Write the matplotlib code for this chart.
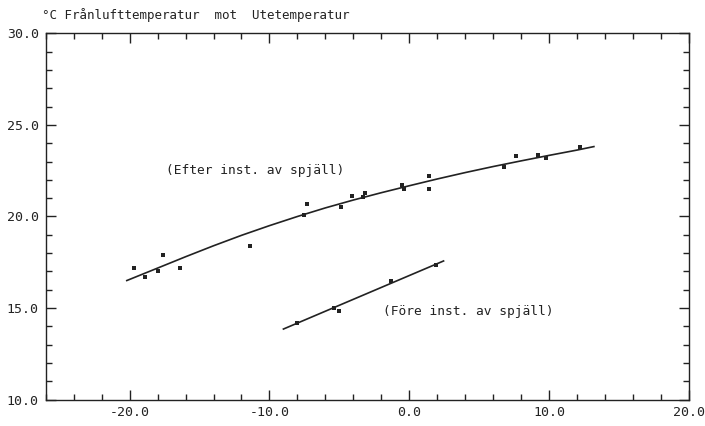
import numpy as np
import matplotlib
matplotlib.use("Agg")
import matplotlib.pyplot as plt
from matplotlib.ticker import MultipleLocator, FormatStrFormatter

# Measured points after the damper was installed (outdoor temp, exhaust air temp)
efter_ute = [-19.7, -18.9, -18.0, -17.6, -16.4, -11.4, -7.5, -7.3, -4.9, -4.1,
             -3.3, -3.2, -0.5, -0.4, 1.4, 1.4, 6.8, 7.6, 9.2, 9.8, 12.2]
efter_franluft = [17.2, 16.7, 17.0, 17.9, 17.2, 18.4, 20.1, 20.7, 20.5, 21.1,
                  21.05, 21.3, 21.7, 21.5, 22.2, 21.5, 22.7, 23.3, 23.35, 23.2, 23.8]

# Fitted curve (after)
efter_kurva_ute = [-20.2, -18, -16, -14, -12, -10, -8, -6, -4, -2,
                   0, 2, 4, 6, 8, 10, 12, 13.2]
efter_kurva_franluft = [16.5, 17.18, 17.8, 18.4, 18.97, 19.5, 20.0, 20.47, 20.9, 21.3,
                        21.68, 22.05, 22.4, 22.73, 23.04, 23.34, 23.63, 23.82]

# Measured points before the damper was installed
fore_ute = [-8.0, -5.4, -5.05, -1.3, 1.9]
fore_franluft = [14.2, 15.0, 14.85, 16.5, 17.35]

# Fitted line (before)
fore_linje_ute = [-9.0, 2.45]
fore_linje_franluft = [13.85, 17.57]

font = "DejaVu Sans Mono"
ink = "#222222"

fig = plt.figure(figsize=(7.05, 4.26), dpi=100)
ax = fig.add_axes([0.0648, 0.0622, 0.9125, 0.8592])

ax.plot(efter_kurva_ute, efter_kurva_franluft, color=ink, lw=1.2)
ax.plot(fore_linje_ute, fore_linje_franluft, color=ink, lw=1.2)
ax.scatter(efter_ute, efter_franluft, s=5, color=ink, marker="s", lw=0)
ax.scatter(fore_ute, fore_franluft, s=5, color=ink, marker="s", lw=0)

ax.text(-17.4, 22.5, "(Efter inst. av spjäll)", family=font, fontsize=9.3,
        va="center", color=ink)
ax.text(-1.9, 14.8, "(Före inst. av spjäll)", family=font, fontsize=9.3,
        va="center", color=ink)

ax.set_xlim(-26, 20)
ax.set_ylim(10, 30)

ax.xaxis.set_major_locator(MultipleLocator(10))
ax.xaxis.set_minor_locator(MultipleLocator(2))
ax.yaxis.set_major_locator(MultipleLocator(5))
ax.yaxis.set_minor_locator(MultipleLocator(1))
ax.xaxis.set_major_formatter(FormatStrFormatter("%.1f"))
ax.yaxis.set_major_formatter(FormatStrFormatter("%.1f"))

ax.tick_params(which="both", direction="in", top=True, right=True,
               color=ink, labelcolor=ink)
ax.tick_params(which="major", length=7, width=1.0, labelsize=9.5, pad=5)
ax.tick_params(which="minor", length=4, width=1.0)
for lbl in ax.get_xticklabels() + ax.get_yticklabels():
    lbl.set_family(font)

for sp in ax.spines.values():
    sp.set_color(ink)
    sp.set_linewidth(1.0)

fig.text(0.06, 0.965, "°C Frånlufttemperatur  mot  Utetemperatur", family=font,
         fontsize=9.0, va="center", ha="left", color=ink)

fig.savefig("out.png", dpi=100, facecolor="white")
